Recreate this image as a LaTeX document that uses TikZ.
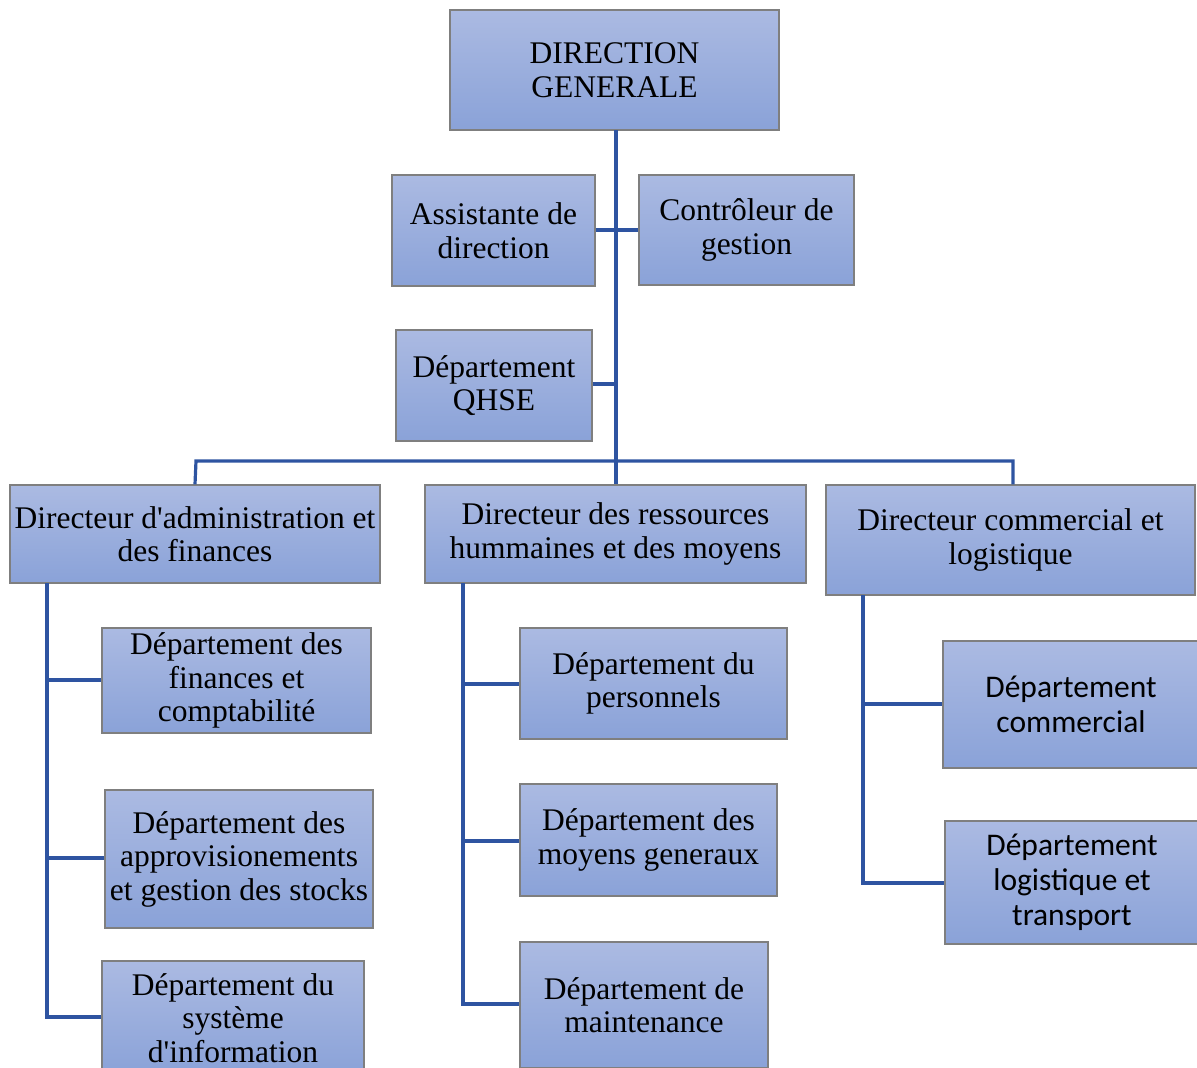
\documentclass[tikz,border=0pt]{standalone}
\usepackage{fontspec}
\setmainfont{Liberation Serif}[Ligatures=TeXOff]
\newfontfamily\calfont{Carlito}
\definecolor{boxtop}{HTML}{ABBAE2}
\definecolor{boxbot}{HTML}{8AA2D8}
\definecolor{boxline}{HTML}{7F7F7F}
\definecolor{conn}{HTML}{2E54A1}
\begin{document}
\begin{tikzpicture}[x=1pt,y=-1pt,
  box/.style={draw=boxline, line width=1.2pt, top color=boxtop, bottom color=boxbot,
    align=center, inner sep=0pt, font=\fontsize{31.5}{33.5}\selectfont},
  cbox/.style={box, font=\calfont\fontsize{31.5}{35}\selectfont},
  link/.style={draw=conn, line width=3.2pt}]
\useasboundingbox (0,0) rectangle (1197,1068);
% top level
\node[box, minimum width=329, minimum height=120] (dg) at (614.5,70) {DIRECTION\\GENERALE};
\node[box, minimum width=203, minimum height=111] (asst) at (493.5,230.5) {Assistante de\\direction};
\node[box, minimum width=215, minimum height=110] (ctrl) at (746.5,230) {Contrôleur de\\gestion};
\node[box, minimum width=196, minimum height=111] (qhse) at (494,385.5) {Département\\QHSE};
% directors
\node[box, minimum width=370, minimum height=98] (daf) at (195,534) {Directeur d'administration et\\des finances};
\node[box, minimum width=381, minimum height=98] (drh) at (615.5,534) {Directeur des ressources\\hummaines et des moyens};
\node[box, minimum width=369, minimum height=110] (dcl) at (1010.5,540) {Directeur commercial et\\logistique};
% left column
\node[box, minimum width=269, minimum height=105] (dfc) at (236.5,680.5) {Département des\\finances et\\comptabilité};
\node[box, minimum width=268, minimum height=138] (dap) at (239,859) {Département des\\approvisionements\\et gestion des stocks};
\node[box, minimum width=262, minimum height=114] (dsi) at (233,1018) {Département du\\système\\d'information};
% middle column
\node[box, minimum width=267, minimum height=111] (dpe) at (653.5,683.5) {Département du\\personnels};
\node[box, minimum width=257, minimum height=112] (dmg) at (648.5,840) {Département des\\moyens generaux};
\node[box, minimum width=248, minimum height=126] (dma) at (644,1005) {Département de\\maintenance};
% right column
\node[cbox, minimum width=256, minimum height=127] (dco) at (1071,704.5) {Département\\commercial};
\node[cbox, minimum width=254, minimum height=123] (dlt) at (1072,882.5) {Département\\logistique et\\transport};
% connector points
\coordinate (bar) at (616,461);
\coordinate (trunktop) at (616,130);
\coordinate (lsp) at (47,583);
\coordinate (msp) at (463,583);
\coordinate (rsp) at (863,595);
% trunk
\draw[link] (trunktop) -- (bar);
\draw[link] (asst.east |- 0,230) -- (ctrl.west |- 0,230);
\draw[link] (qhse.east |- 0,384) -- (616,384);
% horizontal bar and drops
\draw[link] (daf.north) -- (196,461) -- (1013,461) -- (dcl.north -| 1013,0);
\draw[link] (bar) -- (drh.north -| bar);
% left spine
\draw[link] (lsp) |- (dsi.west |- 0,1017);
\draw[link] (47,680) -- (dfc.west |- 0,680);
\draw[link] (47,858) -- (dap.west |- 0,858);
% middle spine
\draw[link] (msp) |- (dma.west |- 0,1004);
\draw[link] (463,684) -- (dpe.west |- 0,684);
\draw[link] (463,841) -- (dmg.west |- 0,841);
% right spine
\draw[link] (rsp) |- (dlt.west |- 0,883);
\draw[link] (863,704) -- (dco.west |- 0,704);
\end{tikzpicture}
\end{document}
